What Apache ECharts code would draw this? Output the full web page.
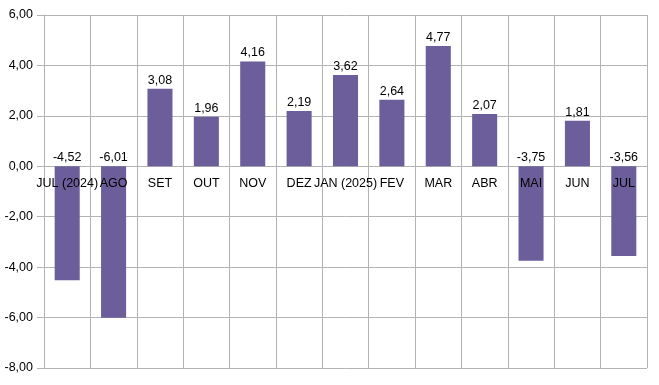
<!DOCTYPE html>
<html><head><meta charset="utf-8">
<script src="https://cdn.jsdelivr.net/npm/echarts@6/dist/echarts.min.js"></script>
<style>html,body{margin:0;padding:0;background:#fff}#c{width:659px;height:385px}</style>
</head><body><div id="c"></div>
<script>
var categories = ["JUL (2024)","AGO","SET","OUT","NOV","DEZ","JAN (2025)","FEV","MAR","ABR","MAI","JUN","JUL"];
var values = [-4.52,-6.01,3.08,1.96,4.16,2.19,3.62,2.64,4.77,2.07,-3.75,1.81,-3.56];
var yTicks = [-8,-6,-4,-2,0,2,4,6];
function fmt(v){return v.toFixed(2).replace('.',',');}
var chart = echarts.init(document.getElementById('c'));
var grey = '#b3b3b3';
var gTop = 15, gBottom = 17, H = 385;
var yMin = yTicks[0], yMax = yTicks[yTicks.length-1];
var plotH = H - gTop - gBottom;
var zeroFromBottom = plotH * (0 - yMin) / (yMax - yMin);
chart.setOption({
  animation:false,
  textStyle:{fontFamily:'Liberation Sans'},
  grid:{left:44,right:12,top:gTop,bottom:gBottom,containLabel:false},
  xAxis:[{type:'category',data:categories,boundaryGap:true,
    axisLine:{show:false},
    axisTick:{show:false,interval:0},
    axisLabel:{show:false,interval:0},
    splitLine:{show:true,interval:0,lineStyle:{color:grey,width:1}}
  },{type:'category',data:categories,boundaryGap:true,position:'bottom',
    offset:-zeroFromBottom,
    axisLine:{show:false},
    axisTick:{show:false},
    axisLabel:{color:'#000',fontSize:12.5,margin:11,interval:0,fontFamily:'Liberation Sans'},
    splitLine:{show:false},
    z:10
  }],
  yAxis:{type:'value',min:yMin,max:yMax,interval:2,
    axisLine:{show:true,lineStyle:{color:grey}},
    axisTick:{show:true,length:7,lineStyle:{color:grey}},
    axisLabel:{color:'#000',fontSize:12.5,margin:11,formatter:function(v){return fmt(v);},fontFamily:'Liberation Sans'},
    splitLine:{show:true,lineStyle:{color:grey,width:1}}
  },
  series:[{type:'bar',data:values,barWidth:'54%',xAxisIndex:0,
    itemStyle:{color:'#6b5e9b'},
    label:{show:true,position:'top',distance:2,color:'#000',fontSize:12.5,fontFamily:'Liberation Sans',
      formatter:function(p){return fmt(p.value);}}
  }]
});
</script></body></html>
